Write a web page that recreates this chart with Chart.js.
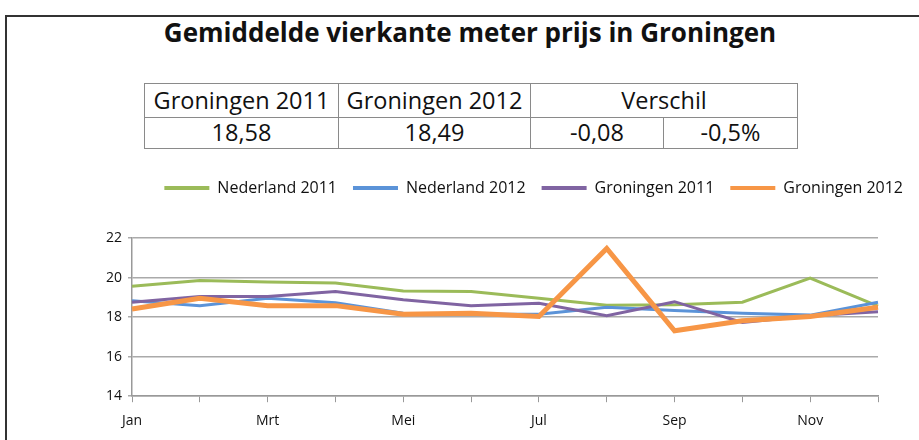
<!DOCTYPE html>
<html>
<head>
<meta charset="utf-8">
<script src="https://cdn.jsdelivr.net/npm/chart.js@4"></script>
<style>
  body { margin: 0; width: 919px; height: 440px; overflow: hidden; background: #fff; font-family: "Open Sans", sans-serif; color: #111; }
  #frame { position: absolute; left: 5px; top: 15px; width: 960px; height: 460px; border-left: 2px solid #333; border-top: 2px solid #333; }
  #title { position: absolute; left: 0; top: 14px; width: 940px; text-align: center; font-weight: bold; font-size: 26px; }
  #stats { position: absolute; left: 144px; top: 83px; border-collapse: collapse; font-size: 23.5px; }
  #stats td { border: 1px solid #8a8a8a; text-align: center; padding: 0; line-height: 1; }
  #wrap { position: absolute; left: 0; top: 164px; width: 919px; height: 295px; }
</style>
</head>
<body>
<div id="frame"></div>
<div id="title">Gemiddelde vierkante meter prijs in Groningen</div>
<table id="stats">
  <tr style="height:34px">
    <td style="width:193px">Groningen 2011</td>
    <td style="width:191px">Groningen 2012</td>
    <td colspan="2">Verschil</td>
  </tr>
  <tr style="height:31px">
    <td>18,58</td>
    <td>18,49</td>
    <td style="width:132px">-0,08</td>
    <td style="width:133px">-0,5%</td>
  </tr>
</table>
<div id="wrap"><canvas id="chart"></canvas></div>
<script>
const months = ['Jan', 'Feb', 'Mrt', 'Apr', 'Mei', 'Jun', 'Jul', 'Aug', 'Sep', 'Okt', 'Nov', 'Dec'];
const nederland2011 = [19.56, 19.85, 19.77, 19.73, 19.32, 19.30, 18.95, 18.60, 18.63, 18.75, 19.97, 18.55];
const nederland2012 = [18.83, 18.58, 18.95, 18.72, 18.20, 18.15, 18.15, 18.50, 18.33, 18.20, 18.10, 18.75];
const groningen2011 = [18.75, 19.04, 19.04, 19.30, 18.88, 18.58, 18.70, 18.07, 18.78, 17.73, 18.07, 18.27];
const groningen2012 = [18.41, 18.95, 18.58, 18.58, 18.15, 18.20, 18.03, 21.47, 17.31, 17.82, 18.03, 18.50];

const labels = ['Nederland 2011', 'Nederland 2012', 'Groningen 2011', 'Groningen 2012'];
const colors = ['#9bbb59', '#5b93d8', '#8064a2', '#f79646'];
const widths = [3, 3, 3, 5];
const series = [nederland2011, nederland2012, groningen2011, groningen2012];

let datasets = [];
for (let i = 0; i < series.length; i++) {
    datasets.push({
        label: labels[i],
        data: series[i],
        borderColor: colors[i],
        backgroundColor: colors[i],
        borderWidth: widths[i],
        pointRadius: 0,
        tension: 0,
        fill: false,
        order: series.length - i
    });
}

const font = { family: '"Open Sans", sans-serif', size: 14 };

// leave some room between the legend and the plot
const legendGap = {
    id: 'legendGap',
    beforeInit(chart) {
        const fit = chart.legend.fit;
        chart.legend.fit = function () {
            fit.bind(chart.legend)();
            this.height += 32;
        };
    }
};

new Chart('chart', {
    type: 'line',
    data: { labels: months, datasets: datasets },
    plugins: [legendGap],
    options: {
        maintainAspectRatio: false,
        animation: false,
        layout: { padding: { left: 100, right: 0, top: 0, bottom: 20 } },
        plugins: {
            tooltip: { enabled: false },
            legend: {
                align: 'end',
                labels: {
                    sort: (a, b) => a.datasetIndex - b.datasetIndex,
                    generateLabels: (chart) => Chart.defaults.plugins.legend.labels.generateLabels(chart)
                        .map(item => Object.assign(item, { lineWidth: 0 })),
                    boxWidth: 45,
                    boxHeight: 4,
                    padding: 16,
                    color: '#111',
                    font: { family: '"Open Sans", sans-serif', size: 16 }
                }
            }
        },
        scales: {
            x: {
                offset: false,
                grid: { drawOnChartArea: false, tickLength: 6, color: '#999' },
                border: { color: '#999', width: 1.5 },
                ticks: {
                    autoSkip: false,
                    maxRotation: 0,
                    padding: 10,
                    color: '#111',
                    font: font,
                    callback: function (value, index) { return index % 2 === 0 ? this.getLabelForValue(value) : ''; }
                }
            },
            y: {
                min: 14,
                max: 22,
                grid: { color: '#aaa', lineWidth: 1.5, tickLength: 4 },
                border: { color: '#999', width: 1.5 },
                ticks: { stepSize: 2, padding: 6, color: '#111', font: font }
            },
            pad: {
                position: 'right',
                grid: { display: false },
                border: { display: false },
                ticks: { display: false },
                afterFit: (scale) => { scale.width = 41; }
            }
        }
    }
});
</script>
</body>
</html>
